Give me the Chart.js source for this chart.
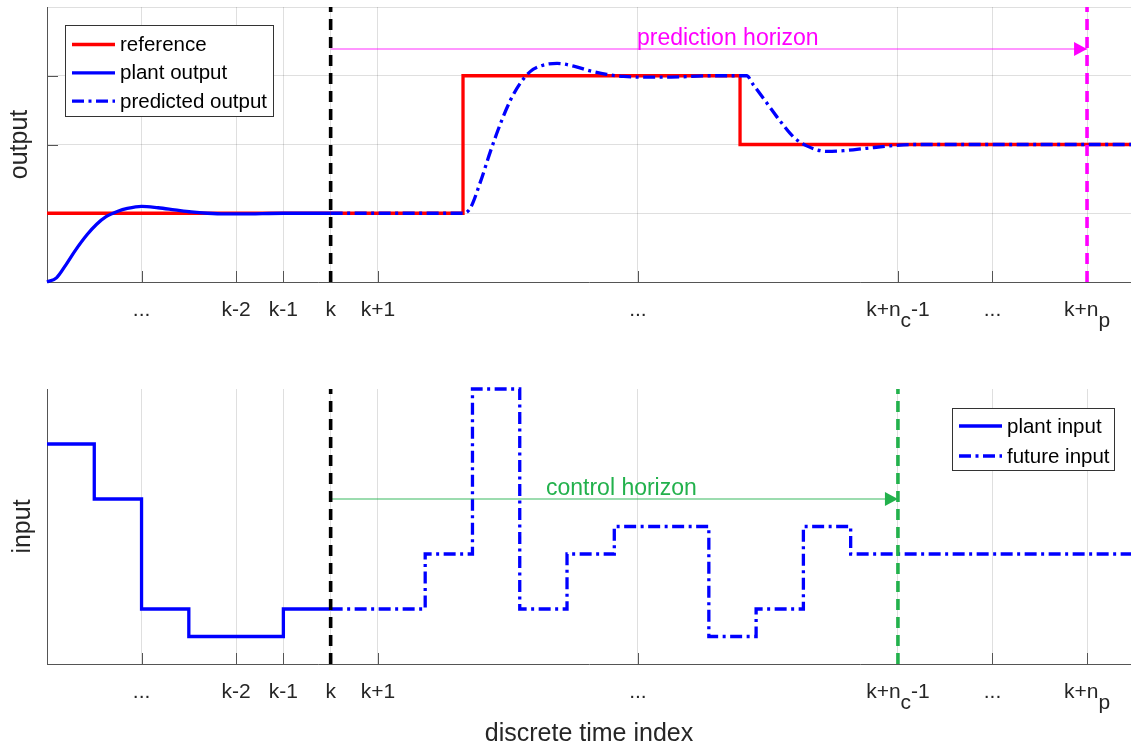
<!DOCTYPE html>
<html>
<head>
<meta charset="utf-8">
<script src="https://cdn.jsdelivr.net/npm/chart.js@4.4.1/dist/chart.umd.min.js"></script>
<style>
  body { margin: 0; background: #fff; }
  #topChart { position: absolute; left: 0; top: 0; }
  #botChart { position: absolute; left: 0; top: 360px; }
</style>
</head>
<body>
<canvas id="topChart" width="1131" height="360"></canvas>
<canvas id="botChart" width="1131" height="389"></canvas>
<script>
// ---- data ----
const xMin = 0, xMax = 22.93;
const xTicks = [2, 4, 5, 6, 7, 12.5, 18, 20, 22];
const xTickLabels = ['...', 'k-2', 'k-1', 'k', 'k+1', '...', 'k+n_c-1', '...', 'k+n_p'];
const kTime = 6, ncTime = 18, npTime = 22;

// top plot (output)
const outTicks = [0, 1, 2, 3, 4];
const refT = [0, 8.8, 14.66, 22.93];
const refY = [1, 3, 2, 2];
const plantT = [0, 0.2, 0.4, 0.6, 0.85, 1.05, 1.25, 1.5, 1.7, 2.0, 2.35, 2.7, 3.05, 3.4, 3.75, 4.1, 5, 6];
const plantY = [0, 0.06, 0.25, 0.46, 0.69, 0.84, 0.95, 1.03, 1.07, 1.10, 1.08, 1.05, 1.02, 1.0, 0.99, 0.99, 1.0, 1.0];
const predT = [6, 8.8, 8.95, 9.17, 9.38, 9.59, 9.8, 10.01, 10.22, 10.43, 10.79, 11.14, 11.49, 11.84, 12.2, 12.55, 13.2, 14, 14.8, 14.94, 15.23, 15.52, 15.79, 16.07, 16.5, 16.85, 17.34, 17.84, 18.3, 19, 22.93];
const predY = [1, 1, 1.07, 1.46, 1.9, 2.3, 2.64, 2.89, 3.06, 3.14, 3.18, 3.14, 3.07, 3.02, 2.99, 2.98, 2.98, 3.0, 3.0, 2.87, 2.6, 2.33, 2.11, 1.98, 1.9, 1.91, 1.945, 1.98, 2.0, 2.0, 2.0];
const predArrowY = 3.39;
const predText = 'prediction horizon', predTextX = 14.4, predTextY = 3.45;
const topLegendLabels = ['reference', 'plant output', 'predicted output'];

// bottom plot (input)
const inT = [0, 1, 2, 3, 4, 5, 6];
const inY = [8, 6, 2, 1, 1, 2, 2];
const futT = [6, 7, 8, 9, 10, 11, 12, 13, 14, 15, 16, 17, 18, 22.93];
const futY = [2, 2, 4, 10, 2, 4, 5, 5, 1, 2, 5, 4, 4, 4];
const ctrlArrowY = 6.0;
const ctrlText = 'control horizon', ctrlTextX = 12.15, ctrlTextY = 6.15;
const botLegendLabels = ['plant input', 'future input'];

// ---- style ----
const FONT = "'Liberation Sans', Arial, Helvetica, sans-serif";
const TXT = '#262626';
const AXIS_COL = '#555555';
const GRID_COL = 'rgba(38,38,38,0.15)';
const RED = '#ff0000', BLUE = '#0000ff', MAG = '#ff00ff', GREEN = '#22b14c';
const DASHDOT = [12, 4.5, 3, 4.5];
const DASH = [11, 7];
const TICK_LEN = 11;
const LW = 3.3;

Chart.defaults.font.family = FONT;

function pts(xs, ys) { return xs.map((x, i) => ({ x: x, y: ys[i] })); }

function drawTickLabel(ctx, label, cx, base) {
  const parts = [];
  for (let i = 0; i < label.length; i++) {
    if (label[i] === '_') { parts.push({ s: label[i + 1], sub: true }); i++; }
    else parts.push({ s: label[i], sub: false });
  }
  let w = 0;
  parts.forEach(p => { w += ctx.measureText(p.s).width; });
  let x = cx - w / 2;
  parts.forEach(p => {
    ctx.fillText(p.s, x, base + (p.sub ? 11 : 0));
    x += ctx.measureText(p.s).width;
  });
}

function drawLegend(ctx, L) {
  ctx.save();
  ctx.fillStyle = '#fff';
  ctx.fillRect(L.x, L.y, L.w, L.h);
  ctx.strokeStyle = '#333';
  ctx.lineWidth = 1;
  ctx.strokeRect(Math.round(L.x) + 0.5, Math.round(L.y) + 0.5, L.w, L.h);
  ctx.font = '20.5px ' + FONT;
  ctx.textBaseline = 'middle';
  L.items.forEach((it, i) => {
    const y = L.y + L.row0 + i * L.gap;
    ctx.beginPath();
    ctx.setLineDash(it.dash || []);
    ctx.strokeStyle = it.color;
    ctx.lineWidth = LW;
    ctx.moveTo(L.x + 7, y);
    ctx.lineTo(L.x + 50, y);
    ctx.stroke();
    ctx.setLineDash([]);
    ctx.fillStyle = '#000';
    ctx.fillText(it.text, L.x + 55, y + 1);
  });
  ctx.restore();
}

const extras = {
  id: 'extras',
  beforeDatasetsDraw(chart, args, o) {
    const { ctx, chartArea: a } = chart;
    const xs = chart.scales.x, ys = chart.scales.y;
    ctx.save();
    ctx.strokeStyle = AXIS_COL;
    ctx.lineWidth = 1;
    ctx.beginPath();
    xTicks.forEach(v => {
      const px = Math.round(xs.getPixelForValue(v)) + 0.5;
      ctx.moveTo(px, a.bottom);
      ctx.lineTo(px, a.bottom - TICK_LEN);
    });
    o.yTicks.forEach(v => {
      const py = Math.round(ys.getPixelForValue(v)) + 0.5;
      ctx.moveTo(a.left, py);
      ctx.lineTo(a.left + TICK_LEN, py);
    });
    ctx.stroke();
    ctx.restore();
  },
  afterDatasetsDraw(chart, args, o) {
    const { ctx, chartArea: a } = chart;
    const xs = chart.scales.x, ys = chart.scales.y;
    ctx.save();
    // x tick labels
    ctx.font = '21px ' + FONT;
    ctx.fillStyle = TXT;
    ctx.textBaseline = 'alphabetic';
    xTicks.forEach((v, i) => drawTickLabel(ctx, xTickLabels[i], xs.getPixelForValue(v), a.bottom + 34));
    // arrow head
    const tx = xs.getPixelForValue(o.arrow.x1), ty = ys.getPixelForValue(o.arrow.y);
    ctx.fillStyle = o.arrow.color;
    ctx.beginPath();
    ctx.moveTo(tx, ty);
    ctx.lineTo(tx - 13, ty - 7);
    ctx.lineTo(tx - 13, ty + 7);
    ctx.closePath();
    ctx.fill();
    // horizon text
    ctx.font = '23px ' + FONT;
    ctx.textAlign = 'center';
    ctx.fillText(o.text.s, xs.getPixelForValue(o.text.x), ys.getPixelForValue(o.text.y));
    ctx.restore();
    // legend
    const L = o.legend;
    drawLegend(ctx, {
      x: L.fromRight ? a.right - L.dx - L.w : a.left + L.dx,
      y: a.top + L.dy, w: L.w, h: L.h, row0: L.row0, gap: L.gap, items: L.items
    });
  }
};

function xScale(h) {
  return {
    type: 'linear', min: xMin, max: xMax,
    afterBuildTicks: s => { s.ticks = xTicks.map(v => ({ value: v })); },
    afterFit: s => { s.height = h; },
    ticks: { display: false },
    grid: { color: GRID_COL, drawTicks: false, lineWidth: 1 },
    border: { display: true, color: AXIS_COL, width: 1 }
  };
}

function line(data, color, width, extra) {
  return Object.assign({
    data: data, borderColor: color, borderWidth: width,
    pointRadius: 0, fill: false, tension: 0, clip: false
  }, extra || {});
}

// ---- top chart ----
new Chart(document.getElementById('topChart'), {
  type: 'line',
  data: {
    datasets: [
      line([{ x: kTime, y: 0 }, { x: kTime, y: 4 }], '#000', 3.6, { borderDash: DASH }),
      line([{ x: npTime, y: 0 }, { x: npTime, y: 4 }], MAG, 3.6, { borderDash: DASH }),
      line([{ x: kTime, y: predArrowY }, { x: npTime, y: predArrowY }], 'rgba(255,0,255,0.55)', 1.5),
      line(pts(predT, predY), BLUE, LW, { borderDash: DASHDOT, cubicInterpolationMode: 'monotone' }),
      line(pts(plantT, plantY), BLUE, LW, { cubicInterpolationMode: 'monotone' }),
      line(pts(refT, refY), RED, LW, { stepped: 'before' })
    ]
  },
  options: {
    responsive: false, animation: false, devicePixelRatio: 1, events: [],
    layout: { padding: { top: 7, left: 0, right: 0, bottom: 0 } },
    plugins: {
      legend: { display: false }, tooltip: { enabled: false },
      extras: {
        yTicks: [1, 2, 3],
        arrow: { x1: npTime, y: predArrowY, color: MAG },
        text: { s: predText, x: predTextX, y: predTextY },
        legend: {
          fromRight: false, dx: 18, dy: 18, w: 208, h: 91, row0: 19.5, gap: 28.3,
          items: [
            { text: topLegendLabels[0], color: RED },
            { text: topLegendLabels[1], color: BLUE },
            { text: topLegendLabels[2], color: BLUE, dash: DASHDOT }
          ]
        }
      }
    },
    scales: {
      x: xScale(78),
      y: {
        type: 'linear', min: 0, max: 4,
        afterBuildTicks: s => { s.ticks = outTicks.map(v => ({ value: v })); },
        afterFit: s => { s.width = 47; },
        ticks: { display: false },
        grid: { color: GRID_COL, drawTicks: false },
        border: { display: true, color: AXIS_COL, width: 1 },
        title: { display: true, text: 'output', color: TXT, font: { size: 25, lineHeight: 1 }, padding: { top: 8, bottom: 0 } }
      }
    }
  },
  plugins: [extras]
});

// ---- bottom chart ----
new Chart(document.getElementById('botChart'), {
  type: 'line',
  data: {
    datasets: [
      line([{ x: kTime, y: 0 }, { x: kTime, y: 10 }], '#000', 3.6, { borderDash: DASH }),
      line([{ x: ncTime, y: 0 }, { x: ncTime, y: 10 }], GREEN, 3.6, { borderDash: DASH }),
      line([{ x: kTime, y: ctrlArrowY }, { x: ncTime, y: ctrlArrowY }], 'rgba(34,177,76,0.6)', 1.5),
      line(pts(futT, futY), BLUE, LW, { borderDash: DASHDOT, stepped: 'before' }),
      line(pts(inT, inY), BLUE, LW, { stepped: 'before' })
    ]
  },
  options: {
    responsive: false, animation: false, devicePixelRatio: 1, events: [],
    layout: { padding: { top: 29, left: 0, right: 0, bottom: 0 } },
    plugins: {
      legend: { display: false }, tooltip: { enabled: false },
      extras: {
        yTicks: [],
        arrow: { x1: ncTime, y: ctrlArrowY, color: GREEN },
        text: { s: ctrlText, x: ctrlTextX, y: ctrlTextY },
        legend: {
          fromRight: true, dx: 17, dy: 19, w: 162, h: 62, row0: 18, gap: 30,
          items: [
            { text: botLegendLabels[0], color: BLUE },
            { text: botLegendLabels[1], color: BLUE, dash: DASHDOT }
          ]
        }
      }
    },
    scales: {
      x: Object.assign(xScale(85), {
        title: { display: true, text: 'discrete time index', color: TXT, font: { size: 25, lineHeight: 1 }, padding: { top: 0, bottom: 2 } }
      }),
      y: {
        type: 'linear', min: 0, max: 10,
        afterFit: s => { s.width = 47; },
        ticks: { display: false },
        grid: { display: false, drawTicks: false },
        border: { display: true, color: AXIS_COL, width: 1 },
        title: { display: true, text: 'input', color: TXT, font: { size: 25, lineHeight: 1 }, padding: { top: 11, bottom: 0 } }
      }
    }
  },
  plugins: [extras]
});
</script>
</body>
</html>
